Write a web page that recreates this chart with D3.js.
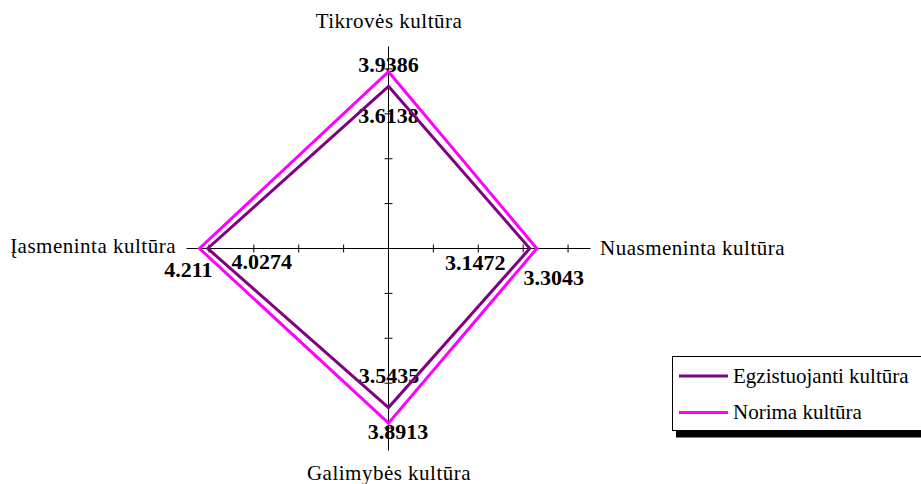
<!DOCTYPE html>
<html><head><meta charset="utf-8">
<script src="https://cdn.jsdelivr.net/npm/d3@7"></script>
<style>
html,body{margin:0;padding:0;background:#fff;}
svg{display:block;}
text{font-family:"Liberation Serif","Times New Roman",serif;}
</style></head>
<body>
<script>
const categories = ["Tikrovės kultūra", "Nuasmeninta kultūra", "Galimybės kultūra", "Įasmeninta kultūra"];
const seriesNames = ["Egzistuojanti kultūra", "Norima kultūra"];
const egzistuojanti = [3.6138, 3.1472, 3.5435, 4.0274];
const norima = [3.9386, 3.3043, 3.8913, 4.211];
const tickValues = [1, 2, 3, 4];
const colors = ["#800080", "#FF00FF"];

const W = 921, H = 484;
const cx = 388.5, cy = 248.5;
const r = d3.scaleLinear().domain([0, 4.5]).range([0, 202]);
const angle = d3.scalePoint().domain(categories).range([0, 270]); // degrees clockwise from up

const svg = d3.select("body").append("svg").attr("width", W).attr("height", H);

function pt(cat, v) {
  const a = angle(cat) * Math.PI / 180;
  return [cx + r(v) * Math.sin(a), cy - r(v) * Math.cos(a)];
}

// data labels offsets (dx, dy) relative to point: [series][category]
const labelOffsets = [
  [[0, 37], [-54.5, 21.5], [0.5, -24.5], [54, 20.5]],
  [[0, 0], [17, 36.5], [9.5, 16], [-11, 28.5]]
];
const seriesData = [egzistuojanti, norima];

// labels
seriesData.forEach((vals, si) => {
  vals.forEach((v, ci) => {
    const [x, y] = pt(categories[ci], v);
    svg.append("text")
      .attr("x", x + labelOffsets[si][ci][0])
      .attr("y", y + labelOffsets[si][ci][1])
      .attr("text-anchor", "middle")
      .attr("font-size", 22).attr("font-weight", "bold")
      .attr("fill", "#000")
      .text(String(v));
  });
});

// axes
const axesG = svg.append("g");
categories.forEach(cat => {
  const [x2, y2] = pt(cat, 4.5);
  axesG.append("line").attr("x1", cx).attr("y1", cy).attr("x2", x2).attr("y2", y2)
    .attr("stroke", "#000").attr("stroke-width", 1);
  const a = angle(cat) * Math.PI / 180;
  tickValues.forEach(t => {
    const [tx, ty] = pt(cat, t);
    const px = Math.cos(a) * 4, py = Math.sin(a) * 4;
    axesG.append("line").attr("x1", tx - px).attr("y1", ty - py).attr("x2", tx + px).attr("y2", ty + py)
      .attr("stroke", "#000").attr("stroke-width", 1);
  });
});

// polygons
const line = d3.line().curve(d3.curveLinearClosed);
[1, 0].forEach(si => {
  const pts = seriesData[si].map((v, ci) => pt(categories[ci], v));
  svg.append("path").attr("d", line(pts))
    .attr("fill", "none").attr("stroke", colors[si]).attr("stroke-width", 3)
    .attr("stroke-linejoin", "miter");
});

// axis titles
const tStyle = s => s.attr("font-size", 21).attr("fill", "#000").attr("letter-spacing", 0.5);
svg.append("text").attr("x", 389).attr("y", 28).attr("text-anchor", "middle").call(tStyle).text(categories[0]);
svg.append("text").attr("x", 600).attr("y", 255).attr("text-anchor", "start").call(tStyle).text(categories[1]);
svg.append("text").attr("x", 389).attr("y", 480).attr("text-anchor", "middle").call(tStyle).text(categories[2]);
svg.append("text").attr("x", 176).attr("y", 253).attr("text-anchor", "end").call(tStyle).text(categories[3]);

// legend
const lg = svg.append("g");
lg.append("rect").attr("x", 676).attr("y", 430.5).attr("width", 260).attr("height", 7).attr("fill", "#000");
lg.append("rect").attr("x", 672.5).attr("y", 356.5).attr("width", 270).attr("height", 74)
  .attr("fill", "#fff").attr("stroke", "#000").attr("stroke-width", 1);
seriesNames.forEach((name, i) => {
  const y = 376 + i * 36.5;
  lg.append("line").attr("x1", 679).attr("x2", 728).attr("y1", y).attr("y2", y)
    .attr("stroke", colors[i]).attr("stroke-width", 3);
  lg.append("text").attr("x", 733).attr("y", y + 6.5).attr("font-size", 21).attr("fill", "#000").text(name);
});
</script>
</body></html>
